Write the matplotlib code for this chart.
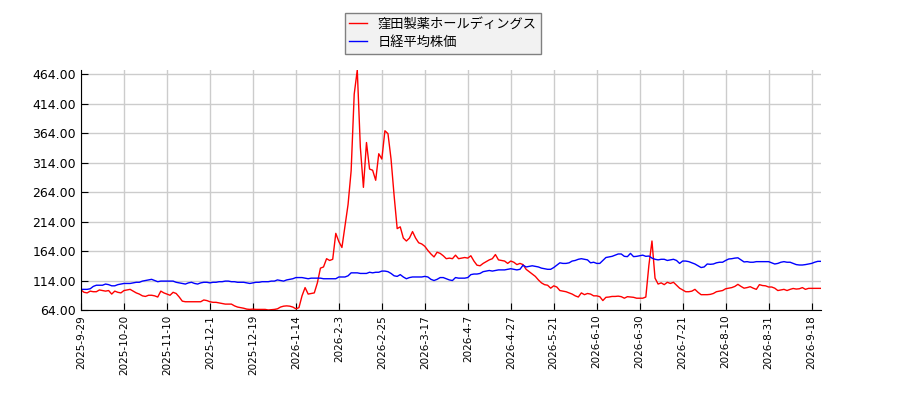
import numpy as np
import matplotlib
matplotlib.use("Agg")
import matplotlib.pyplot as plt
from matplotlib.ticker import FormatStrFormatter

# 窪田製薬ホールディングス (red) and 日経平均株価 (blue), one value per trading day
kubota = [
    98, 94, 93, 96, 95, 95, 98, 97, 96, 97,
    91, 96, 94, 93, 97, 98, 99, 96, 93, 91,
    88, 87, 89, 89, 88, 86, 96, 93, 91, 89,
    94, 92, 86, 79, 78, 78, 78, 78, 78, 78,
    81, 80, 78, 77, 77, 76, 75, 74, 74, 74,
    71, 69, 68, 67, 65.5, 65, 65.5, 65, 65, 65,
    65, 64, 64.5, 65, 66, 69, 70.5, 71, 70.5, 69,
    66, 68, 88, 102, 91, 92, 93, 110, 135, 137,
    151, 148, 150, 194, 180, 170, 207, 243, 300, 430,
    471, 340, 272, 348, 303, 301, 284, 329, 320, 368,
    363, 320, 258, 202, 205, 186, 181, 186, 197, 186,
    178, 176, 172, 165, 159, 154, 162, 160, 156, 151,
    152, 151, 157, 151, 152, 153, 152, 156, 147, 140,
    139, 143, 146, 149, 151, 158, 149, 148, 147, 143,
    147, 145, 141, 143, 141, 133, 129, 125, 121, 115,
    110, 107, 106, 101, 105, 103, 97, 96, 95, 93,
    91, 88, 86, 93, 90, 92, 91, 88, 88, 86.6,
    80, 85.5, 86, 87, 87, 87.5, 86.6, 84, 86.6, 86,
    85.5, 84, 84, 84, 86, 140, 181, 118, 108, 110,
    107, 111, 109, 111, 106, 101, 98, 95, 95, 96,
    99, 94, 90, 90, 90, 90.5, 92, 95, 96, 97,
    100, 101, 102, 104, 107.5, 104, 101, 102, 103.5, 101,
    99, 107, 105.5, 105, 103, 103, 101, 97, 98, 99,
    97, 99, 100.5, 99.5, 100, 102, 99, 100.7, 100.7, 100.7,
    100.7, 100.7,
]
nikkei = [
    99, 99, 99, 100, 104, 106, 106, 106, 108, 107,
    105, 105, 107, 108, 109, 109, 109, 110, 111, 111,
    113, 114, 115, 116, 114, 112, 113, 113, 113, 113,
    113, 111, 110, 109, 108, 110, 111, 109, 108, 110,
    111, 111, 110, 111, 111, 112, 112, 113, 113, 112,
    112, 111, 111, 111, 110, 109, 110, 111, 111, 112,
    112, 112, 113, 113, 115, 114, 113, 115, 116, 117,
    119, 119, 119, 118, 117, 118, 118, 118, 118, 117,
    117, 117, 117, 117, 120, 120, 120, 122, 127, 127,
    127, 126, 126, 126, 128, 127, 128, 128, 130, 130,
    129, 126, 122, 121, 124, 120, 117, 119, 120, 120,
    120, 120, 121, 120, 116, 114, 116, 119, 119, 117,
    115, 114, 119, 118, 118, 118, 119, 124, 125, 125,
    126, 129, 130, 131, 130, 131, 132, 132, 132, 133,
    134, 133, 132, 133, 140, 137, 138, 139, 138, 137,
    135, 134, 133, 133, 136, 140, 144, 143, 143, 144,
    147, 148, 150, 151, 150, 149, 144, 145, 143, 143,
    148, 153, 154, 155, 157, 159, 159, 155, 154.5, 160,
    154.5, 155, 156, 157, 155, 155.5, 152, 150, 149, 150,
    150, 148, 149, 150, 148, 143, 147, 147, 146, 144,
    142, 139, 136, 137, 142, 141.5, 142, 144, 145, 145,
    148, 150.5, 151, 152, 152.5, 149, 145.5, 146, 145, 145,
    146, 146, 146, 146, 146, 144, 142, 143, 145, 146,
    145, 145, 143, 141, 140.3, 140.3, 141, 142, 143, 145,
    146.5, 146.5,
]
tick_labels = [
    "2025-9-29", "2025-10-20", "2025-11-10", "2025-12-1", "2025-12-19",
    "2026-1-14", "2026-2-3", "2026-2-25", "2026-3-17", "2026-4-7",
    "2026-4-27", "2026-5-21", "2026-6-10", "2026-6-30", "2026-7-21",
    "2026-8-10", "2026-8-31", "2026-9-18",
]
tick_step = 14

plt.rcParams['font.family'] = ['Noto Sans CJK JP', 'DejaVu Sans']

x = np.arange(len(kubota))
fig = plt.figure(figsize=(9, 4), dpi=100)
ax = fig.add_axes([0.09, 0.225, 0.822, 0.6])

ax.plot(x, kubota, color='red', lw=1, label='窪田製薬ホールディングス')
ax.plot(x, nikkei, color='blue', lw=1, label='日経平均株価')

lo = min(min(kubota), min(nikkei))
hi = max(max(kubota), max(nikkei))
ax.set_xlim(0, len(x) - 1)
ax.set_ylim(lo, hi)
ax.set_yticks(np.arange(lo, hi + 0.01, 50))
ax.yaxis.set_major_formatter(FormatStrFormatter('%.2f'))
ax.set_xticks(x[::tick_step])
ax.set_xticklabels(tick_labels, rotation=90, fontsize=7.5, family='DejaVu Sans')
for lab in ax.get_yticklabels():
    lab.set_family('DejaVu Sans')
    lab.set_fontsize(9)

ax.grid(True, color='#cccccc', lw=1)
ax.set_axisbelow(True)
ax.tick_params(direction='in', length=5)
ax.spines['top'].set_visible(False)
ax.spines['right'].set_visible(False)

leg = fig.legend(loc='upper center', bbox_to_anchor=(0.492, 0.9675), fontsize=9.5,
                 fancybox=False, facecolor='#f2f2f2', edgecolor='#808080',
                 framealpha=1, borderpad=0.35, borderaxespad=0,
                 handlelength=1.3, labelspacing=0.4)

plt.savefig('out.png', dpi=100)
